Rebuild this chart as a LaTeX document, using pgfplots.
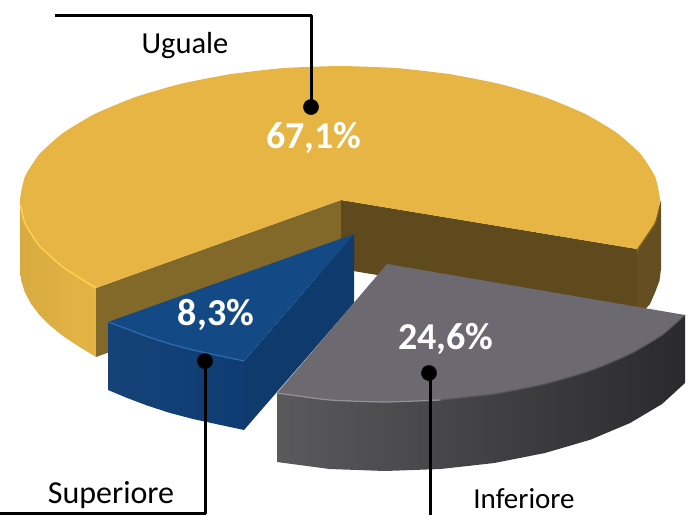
\documentclass[border=0pt]{standalone}
\usepackage{fontspec}
\setmainfont{Carlito}
\usepackage{pgfplots}
\pgfplotsset{compat=1.18}
\definecolor{ytop}{HTML}{E6B543}
\definecolor{yrim}{HTML}{FFD04E}
\definecolor{ysideA}{HTML}{D8AB41}
\definecolor{ysideB}{HTML}{E4B545}
\definecolor{ywallL}{HTML}{826829}
\definecolor{ywallR}{HTML}{5F4A1E}
\definecolor{yrightside}{HTML}{654F22}
\definecolor{btop}{HTML}{134A86}
\definecolor{bside}{HTML}{0E3C73}
\definecolor{bwall}{HTML}{0F3A6C}
\definecolor{brim}{HTML}{2F6BAE}
\definecolor{gtop}{HTML}{6C6A70}
\definecolor{grim}{HTML}{929294}
\definecolor{gsideA}{HTML}{5A5A5C}
\definecolor{gsideM}{HTML}{3A3A3C}
\definecolor{gsideB}{HTML}{2A2A2C}
\begin{document}
\begin{tikzpicture}
\begin{axis}[
  hide axis, scale only axis, width=697pt, height=515pt,
  xmin=0, xmax=697, ymin=0, ymax=515, y dir=reverse,
  no markers,
  every axis plot/.append style={line cap=butt, line join=round},
]
% Yellow outer side, left
\addplot[draw=none, left color=ysideA, right color=ysideB] coordinates {
 (20,200) (24.9,223.3) (39.3,245.8) (62.9,267) (96,288)
 (96,357) (77.9,345.9) (62.9,336) (50,325.6) (39.3,314.8) (30.9,303.7) (24.9,292.3) (21.2,280.7) (20,269)} --cycle;
% Yellow outer side, right
\addplot[draw=none, fill=yrightside] coordinates {
 (661,200) (655.1,223.3) (637.7,249.1) (630,322) (640,315) (650,304) (655.1,292.3) (659.5,280.7) (661,269)} --cycle;
% Yellow cut walls
\addplot[draw=none, fill=ywallL] coordinates {(341,200) (96,288) (96,357) (341,269)} --cycle;
\addplot[draw=none, fill=ywallR] coordinates {(341,200) (637.7,249.1) (637.7,318) (341,269)} --cycle;
% Yellow top
\addplot[draw=none, fill=ytop, smooth, tension=0.3] coordinates {
 (637.7,249.1) (655.1,223.3) (660,200) (655.1,176.7) (640.7,154.2) (617.1,133)
 (585.1,113.9) (545.7,97.4) (500,84) (449.4,74.1) (395.6,68) (340,66) (284.4,68) (230.6,74.1)
 (180,84) (134.3,97.4) (94.9,113.9) (62.9,133) (39.3,154.2) (24.9,176.7) (20,200)
 (24.9,223.3) (39.3,245.8) (62.9,267) (96,288)} -- (axis cs:341,200) --cycle;
\addplot[yrim, line width=1.5pt, smooth, tension=0.3] coordinates {
 (20.5,205) (24.9,223.3) (39.3,245.8) (62.9,267) (96,288)};
\addplot[yrightside!80!ytop, line width=1.2pt, smooth, tension=0.3] coordinates {
 (660,205) (655.1,223.3) (637.7,249.1)};
% Blue slice
\addplot[draw=none, fill=bwall] coordinates {(354,234) (244,361) (244,430) (354,303)} --cycle;
\addplot[draw=none, left color=bside!97!white, right color=bside] coordinates {
 (108,322) (126.7,328.8) (147.3,336.6) (169.5,343.8) (193,350) (217.8,355.4) (244,361)
 (244,430) (217.8,424.4) (193,419) (169.5,412.8) (147.3,405.6) (126.7,397.8) (108,390)} --cycle;
\addplot[draw=none, fill=btop] coordinates {
 (354,234) (108,322) (126.7,328.8) (147.3,336.6) (169.5,343.8) (193,350) (217.8,355.4) (244,361)} --cycle;
\addplot[brim, line width=1.2pt, smooth, tension=0.3] coordinates {
 (108,322) (126.7,328.8) (147.3,336.6) (169.5,343.8) (193,350) (217.8,355.4) (244,361)};
% Grey slice
\addplot[draw=none, left color=gsideA, middle color=gsideM, right color=gsideB] coordinates {
 (277,393) (329.4,400) (385,402) (440.6,400) (494.4,394) (545,384) (590.7,370.6) (630.1,354) (662.1,335) (685,315)
 (685,383) (662.1,404) (630.1,423) (590.7,439.6) (545,453) (494.4,463) (440.6,469) (385,471) (329.4,469) (277,462)} --cycle;
\addplot[draw=none, fill=gtop] coordinates {
 (387,264) (685,315) (662.1,335) (630.1,354) (590.7,370.6) (545,384) (494.4,394) (440.6,400) (385,402) (329.4,400) (277,393)} --cycle;
\addplot[grim, line width=1.2pt, smooth, tension=0.3] coordinates {(277,393) (329.4,400) (385,402) (440.6,400)};
\addplot[gtop!80!black, line width=1.2pt, smooth, tension=0.3] coordinates {(440.6,400) (494.4,394) (545,384) (590.7,370.6) (630.1,354) (662.1,335) (685,315)};
% Leaders
\addplot[black, line width=3pt] coordinates {(55,15) (311,15) (311,107)};
\addplot[black, line width=3pt] coordinates {(0,513) (205,513) (205,361)};
\addplot[black, line width=3pt] coordinates {(430,515) (430,373)};
\addplot[only marks, mark=*, mark size=7.6pt, mark options={fill=black, draw=black}] coordinates {(311,107) (205,361) (429,373)};
% Labels
\node[font=\fontsize{30.5}{30.5}\selectfont] at (axis cs:185,46) {Uguale};
\node[font=\fontsize{32}{32}\selectfont] at (axis cs:111,495) {Superiore};
\node[font=\fontsize{29}{29}\selectfont] at (axis cs:524,499) {Inferiore};
\node[white, font=\fontsize{38}{38}\selectfont\bfseries] at (axis cs:314,138) {67,1\%};
\node[white, font=\fontsize{38}{38}\selectfont\bfseries] at (axis cs:216,315) {8,3\%};
\node[white, font=\fontsize{38}{38}\selectfont\bfseries] at (axis cs:446,339) {24,6\%};
\end{axis}
\useasboundingbox (0pt,0pt) rectangle (697pt,515pt);
\end{tikzpicture}
\end{document}
